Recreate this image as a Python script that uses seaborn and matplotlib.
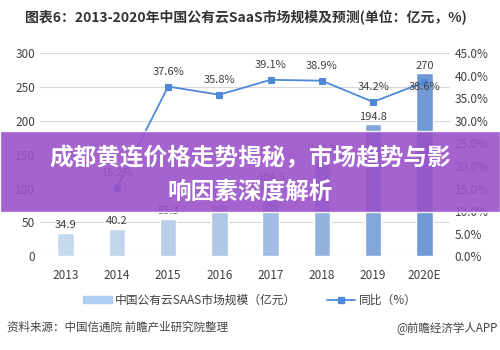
import matplotlib
matplotlib.use('Agg')
import matplotlib.pyplot as plt
import seaborn as sns
import pandas as pd
import numpy as np
from matplotlib.patches import Rectangle
from matplotlib.lines import Line2D
from matplotlib.ticker import FuncFormatter

years = ['2013', '2014', '2015', '2016', '2017', '2018', '2019', '2020E']
market = [34.9, 40.2, 55.3, 75.1, 104.5, 145.2, 194.8, 270]
growth_years = ['2014', '2015', '2016', '2017', '2018', '2019', '2020E']
growth = [15.2, 37.6, 35.8, 39.1, 38.9, 34.2, 38.6]

bar_colors = ['#c0d8f5', '#bad4f4', '#b0cdf2', '#a6c7f1', '#96bcee', '#86b1ec', '#72a4e9', '#5f97e6']
line_color = '#4f88d9'
text_color = '#404040'

sns.set_theme(style='white')
plt.rcParams['font.family'] = ['Noto Sans CJK SC', 'DejaVu Sans']

df = pd.DataFrame({'year': years, 'market': market})
gdf = pd.DataFrame({'pos': [years.index(y) for y in growth_years], 'growth': growth})

fig = plt.figure(figsize=(5, 3.5), dpi=100)
ax = fig.add_axes([0.08, 0.268, 0.82, 0.58])

sns.barplot(data=df, x='year', y='market', hue='year', palette=bar_colors,
            legend=False, width=0.32, ax=ax)
ax.set_ylim(0, 300)
ax.set_yticks(range(0, 301, 50))
ax.grid(axis='y', color='#d9d9d9', lw=0.8)
ax.set_axisbelow(True)
for s in ax.spines.values():
    s.set_visible(False)
ax.set_xlabel('')
ax.set_ylabel('')
ax.tick_params(axis='both', labelsize=8.5, colors=text_color, length=0)
ax.tick_params(axis='x', pad=9)
ax.set_xlim(-0.5, 7.5)
for i, v in enumerate(market):
    ax.text(i, v + 4, f'{v:g}', ha='center', va='bottom', fontsize=8, color=text_color)

ax2 = ax.twinx()
sns.lineplot(data=gdf, x='pos', y='growth', ax=ax2, color=line_color, lw=1.3,
             marker='s', markersize=5, markeredgecolor=line_color)
ax2.set_ylim(0, 45)
ax2.set_yticks(np.arange(0, 45.1, 5))
ax2.yaxis.set_major_formatter(FuncFormatter(lambda v, p: f'{v:.1f}%'))
ax2.tick_params(axis='y', labelsize=8.5, colors=text_color, length=0)
for s in ax2.spines.values():
    s.set_visible(False)
ax2.set_ylabel('')
ax2.set_xlabel('')
ax2.set_xlim(-0.5, 7.5)
for p, g in zip(gdf['pos'], growth):
    if p == len(years) - 1:
        ax2.text(p, g - 1.0, f'{g:.1f}%', ha='center', va='center', fontsize=8, color=text_color)
    else:
        ax2.text(p, g + 2.2, f'{g:.1f}%', ha='center', va='bottom', fontsize=8, color=text_color)

fig.text(0.05, 0.952, '图表6：2013-2020年中国公有云SaaS市场规模及预测(单位：亿元，%)',
         fontsize=10, fontweight='bold', color='#333333', va='center')

handles = [Rectangle((0, 0), 1, 1, color='#b0cdf2'),
           Line2D([0], [0], color=line_color, lw=1.3, marker='s', markersize=4)]
fig.legend(handles, ['中国公有云SAAS市场规模（亿元）', '同比（%）'],
           loc='center', bbox_to_anchor=(0.5, 0.142), ncol=2, frameon=False,
           fontsize=8.5, labelcolor=text_color, handlelength=2.4, handleheight=0.5,
           handletextpad=0.3, columnspacing=2.6)

fig.text(0.014, 0.064, '资料来源：中国信通院 前瞻产业研究院整理', fontsize=8.3, color='#444444', va='center')
fig.text(0.995, 0.064, '@前瞻经济学人APP', fontsize=8.3, color='#444444', va='center', ha='right')

fig.patches.append(Rectangle((0, 0.394), 1, 0.232, transform=fig.transFigure,
                             facecolor='#9a52c9', alpha=0.9, zorder=10))
fig.text(0.5, 0.548, '成都黄连价格走势揭秘，市场趋势与影', fontsize=17, fontweight='bold',
         color='white', ha='center', va='center', zorder=11)
fig.text(0.5, 0.452, '响因素深度解析', fontsize=17, fontweight='bold',
         color='white', ha='center', va='center', zorder=11)

fig.savefig('out.png', dpi=100)
